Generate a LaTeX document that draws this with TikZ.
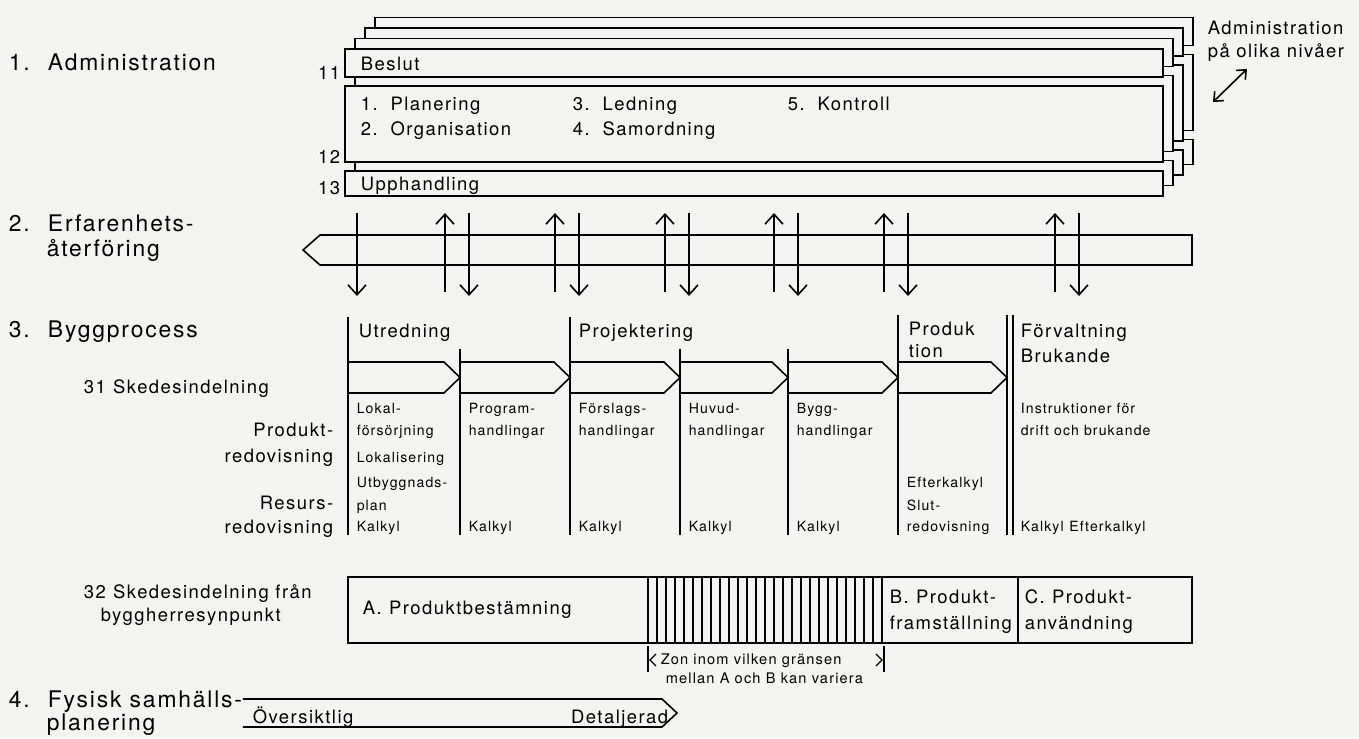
\documentclass[tikz,border=0pt]{standalone}
\usepackage{fontspec}
\setmainfont{TeX Gyre Heros}[LetterSpace=8]
\usepackage{tikz}
\usetikzlibrary{arrows.meta}

\definecolor{paper}{RGB}{243,243,241}

\tikzstyle{titletext} = [font=\fontsize{13}{15}\selectfont, anchor=base west, inner sep=0pt]
\tikzstyle{boxtext} = [font=\fontsize{10.5}{13}\selectfont, anchor=base west, inner sep=0pt]
\tikzstyle{smalltext} = [font=\fontsize{8}{10}\selectfont, anchor=base west, inner sep=0pt]
\tikzstyle{zontext} = [font=\fontsize{8.3}{10}\selectfont, anchor=base west, inner sep=0pt]
\tikzstyle{arrow} = [-{Straight Barb[length=2mm,width=3.6mm]}]
\tikzstyle{dblarrow} = [{Straight Barb[length=1.5mm,width=2.6mm]}-{Straight Barb[length=1.5mm,width=2.6mm]}]

\begin{document}
\begin{tikzpicture}[x=0.02cm, y=-0.02cm, line width=0.9pt]
    \useasboundingbox[fill=paper] (0,0) rectangle (1359,738);

    % 1. Administration
    \node (adm) [titletext] at (8,70) {1.\hspace{0.8em}Administration};

    \foreach \k in {3,2,1,0} {
        \begin{scope}[shift={(10*\k,-10.5*\k)}]
            \draw[fill=paper] (345,49) rectangle (1163,77);
            \draw[fill=paper] (345,86) rectangle (1163,162);
            \draw[fill=paper] (345,171) rectangle (1163,196);
        \end{scope}
    }

    \node (n11) [boxtext, anchor=base east] at (341,79) {11};
    \node (n12) [boxtext, anchor=base east] at (341,163) {12};
    \node (n13) [boxtext, anchor=base east] at (341,194) {13};

    \node (beslut) [boxtext] at (360,70) {Beslut};
    \node (plan) [boxtext] at (360,110) {1.\hspace{0.7em}Planering};
    \node (org) [boxtext] at (360,135) {2.\hspace{0.7em}Organisation};
    \node (led) [boxtext] at (572,110) {3.\hspace{0.7em}Ledning};
    \node (sam) [boxtext] at (572,135) {4.\hspace{0.7em}Samordning};
    \node (kon) [boxtext] at (787,110) {5.\hspace{0.7em}Kontroll};
    \node (upph) [boxtext] at (360,190) {Upphandling};

    \node (niv1) [boxtext] at (1207,34) {Administration};
    \node (niv2) [boxtext] at (1207,57) {på olika nivåer};
    \coordinate (nivA) at (1213,102);
    \coordinate (nivB) at (1247,69);
    \draw[dblarrow] (nivA) -- (nivB);

    % 2. Erfarenhetsaterforing
    \node (erf1) [titletext] at (8,231) {2.\hspace{0.8em}Erfarenhets-};
    \node (erf2) [titletext] at (46,256) {återföring};
    \draw (320,235) -- (1192,235) -- (1192,265) -- (320,265) -- (303,250) -- cycle;

    \draw[arrow] (357,213) -- (357,296);
    \foreach \u in {445,555,665,774,884,1055} {
        \draw[arrow] (\u,292) -- (\u,213);
        \draw[arrow] (\u+24,213) -- (\u+24,296);
    }

    % 3. Byggprocess
    \node (bygg) [titletext] at (8,337) {3.\hspace{0.8em}Byggprocess};
    \node (sk31) [boxtext] at (83,393) {31\hspace{0.4em}Skedesindelning};
    \node (prod1) [boxtext, anchor=base east] at (334,436) {Produkt-};
    \node (prod2) [boxtext, anchor=base east] at (334,462) {redovisning};
    \node (res1) [boxtext, anchor=base east] at (334,509) {Resurs-};
    \node (res2) [boxtext, anchor=base east] at (334,533) {redovisning};

    \foreach \x/\t in {348/317, 460/349, 570/317, 680/349, 788/349, 898/315, 1007/315, 1013/315}
        \draw (\x,\t) -- (\x,535);
    \foreach \a/\b in {348/460, 460/570, 570/680, 680/788, 788/898, 898/1007}
        \draw (\a,362) -- (\b-16,362) -- (\b,377.5) -- (\b-16,393) -- (\a,393);

    \node (utr) [boxtext] at (358,337) {Utredning};
    \node (proj) [boxtext] at (578,337) {Projektering};
    \node (pro1) [boxtext] at (908,335) {Produk};
    \node (pro2) [boxtext] at (908,357) {tion};
    \node (forv1) [boxtext] at (1020,337) {Förvaltning};
    \node (forv2) [boxtext] at (1020,362) {Brukande};

    \node (lok1) [smalltext] at (356,413) {Lokal-};
    \node (lok2) [smalltext] at (356,435) {försörjning};
    \node (lok3) [smalltext] at (356,462) {Lokalisering};
    \node (utb1) [smalltext] at (356,487) {Utbyggnads-};
    \node (utb2) [smalltext] at (356,510) {plan};
    \node (prg1) [smalltext] at (468,413) {Program-};
    \node (prg2) [smalltext] at (468,435) {handlingar};
    \node (fsl1) [smalltext] at (578,413) {Förslags-};
    \node (fsl2) [smalltext] at (578,435) {handlingar};
    \node (huv1) [smalltext] at (688,413) {Huvud-};
    \node (huv2) [smalltext] at (688,435) {handlingar};
    \node (byh1) [smalltext] at (796,413) {Bygg-};
    \node (byh2) [smalltext] at (796,435) {handlingar};
    \node (eft) [smalltext] at (906,487) {Efterkalkyl};
    \node (slut1) [smalltext] at (906,510) {Slut-};
    \node (slut2) [smalltext] at (906,531) {redovisning};
    \node (ins1) [smalltext] at (1020,413) {Instruktioner för};
    \node (ins2) [smalltext] at (1020,435) {drift och brukande};
    \node (kef) [smalltext] at (1020,531) {Kalkyl\hspace{0.4em}Efterkalkyl};
    \foreach \x [count=\i] in {356,468,578,688,796}
        \node (kalk\i) [smalltext] at (\x,531) {Kalkyl};

    % 32 Skedesindelning fran byggherresynpunkt
    \node (sk32a) [boxtext] at (83,598) {32\hspace{0.4em}Skedesindelning från};
    \node (sk32b) [boxtext] at (100,621) {byggherresynpunkt};
    \draw (348,577) rectangle (1192,643);
    \foreach \i in {0,...,26}
        \draw[line width=0.6pt] (648+9*\i,577) -- (648+9*\i,643);
    \draw (1018,577) -- (1018,643);
    \node (pa) [boxtext] at (362,614) {A.\hspace{0.4em}Produktbestämning};
    \node (pb1) [boxtext] at (889,603) {B.\hspace{0.4em}Produkt-};
    \node (pb2) [boxtext] at (889,629) {framställning};
    \node (pc1) [boxtext] at (1024,603) {C.\hspace{0.4em}Produkt-};
    \node (pc2) [boxtext] at (1024,629) {användning};

    % zon
    \draw (648,646) -- (648,672);
    \draw (884,646) -- (884,672);
    \draw[line width=0.7pt] (656,654) -- (650,660) -- (656,666);
    \draw[line width=0.7pt] (876,654) -- (882,660) -- (876,666);
    \node (zon1) [zontext] at (660,664) {Zon inom vilken gränsen};
    \node (zon2) [zontext] at (665,683) {mellan A och B kan variera};

    % 4. Fysisk samhallsplanering
    \node (fys1) [titletext] at (8,707) {4.\hspace{0.8em}Fysisk samhälls-};
    \node (fys2) [titletext] at (46,730) {planering};
    \draw (fys1.east |- 0,699) -- (662,699) -- (677,713) -- (662,727) -- (fys1.east |- 0,727);
    \node (ovs) [boxtext] at (252,723) {Översiktlig};
    \node (det) [boxtext, anchor=base east] at (669,723) {Detaljerad};

\end{tikzpicture}
\end{document}
